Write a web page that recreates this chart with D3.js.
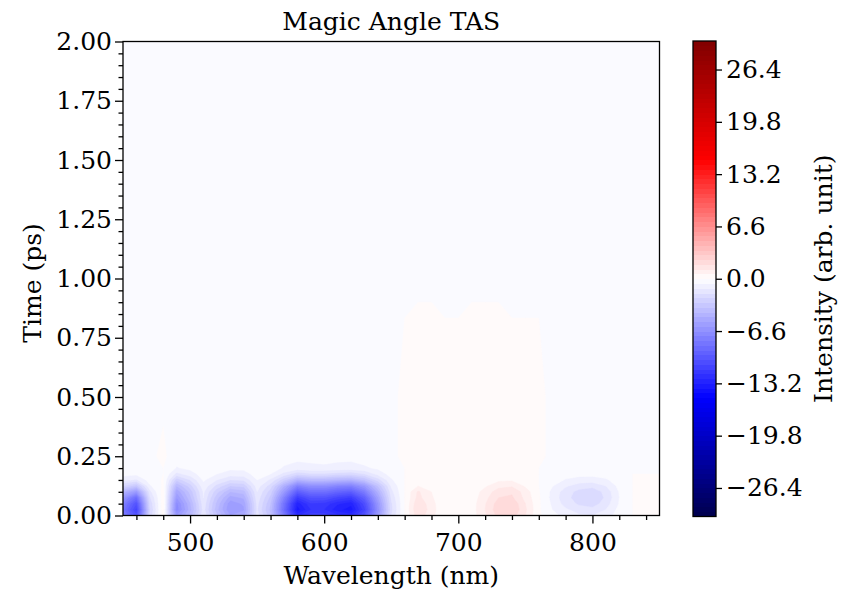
<!DOCTYPE html>
<html>
<head>
<meta charset="utf-8">
<script src="https://cdn.jsdelivr.net/npm/d3@7"></script>
<style>
  body { margin: 0; background: #fff; }
  text { font-family: "DejaVu Serif", serif; fill: #000; }
</style>
</head>
<body>
<svg id="chart" width="851" height="589"></svg>
<script>
// grid
const wavelengths = [450, 460, 470, 480, 490, 500, 510, 520, 530, 540, 550, 560, 570, 580, 590, 600, 610, 620, 630, 640, 650, 660,
	670, 680, 690, 700, 710, 720, 730, 740, 750, 760, 770, 780, 790, 800, 810, 820, 830, 840, 850];
const times = [0, 0.025, 0.05, 0.075, 0.1, 0.125, 0.15, 0.175, 0.2, 0.25, 0.5, 1.0, 1.5, 2.0];

// one row per time, one value per wavelength
const intensity = [
	[-7.5, -10, -2.2, 0.3, -6, -4, -1.3, -3.5, -5.4, -5, -1.5, -3.5, -7.6, -12.2, -11, -11, -11.8, -12.2, -10, -5.8, -1.8, 0,
		1.6, 0.8, 0, 0, 0.3, 1.1, 2, 2.1, 1.2, 0.1, -0.4, -0.8, -1.1, -1.2, -0.9, -0.3, 0, 0.1, 0],
	[-8, -11, -2.5, 0.4, -7, -4.5, -1.5, -4, -6, -5.5, -1.7, -3.8, -8.5, -13.5, -12, -12, -13, -13.5, -11, -6.5, -2, 0,
		1.8, 0.9, 0, 0, 0.3, 1.2, 2.2, 2.4, 1.3, 0.1, -0.6, -1.1, -1.5, -1.6, -1.2, -0.4, 0, 0.15, 0],
	[-7.4, -10.2, -2.3, 0.4, -6.8, -4.3, -1.4, -3.8, -5.8, -5.3, -1.6, -3.6, -8.2, -13, -11.5, -11.6, -12.5, -13, -10.5, -6.2, -1.9, 0,
		1.7, 0.85, 0, 0, 0.3, 1.15, 2.1, 2.3, 1.2, 0.1, -0.7, -1.45, -1.9, -2.1, -1.5, -0.55, 0, 0.2, 0],
	[-6.2, -8.6, -1.9, 0.3, -6, -3.8, -1.2, -3.4, -5.1, -4.7, -1.4, -3.2, -7.3, -11.5, -10.2, -10.2, -11, -11.5, -9.3, -5.5, -1.7, 0,
		1.4, 0.7, 0, 0, 0.25, 1, 1.8, 1.9, 1, 0.1, -0.8, -1.6, -2.1, -2.3, -1.7, -0.6, 0, 0.2, 0],
	[-4.4, -6, -1.4, 0.3, -5.3, -3.4, -1.1, -2.8, -4.2, -3.9, -1.2, -2.7, -6, -9.5, -8.4, -8.4, -9.1, -9.5, -7.7, -4.6, -1.4, 0,
		1.3, 0.6, 0, 0, 0.2, 0.85, 1.5, 1.7, 0.9, 0.05, -0.75, -1.5, -2, -2.2, -1.6, -0.55, 0, 0.2, 0],
	[-2.4, -3.3, -0.7, 0.1, -4.2, -2.7, -0.8, -2, -3, -2.8, -0.9, -2.1, -4.7, -7.4, -6.6, -6.6, -7.2, -7.4, -6, -3.6, -1.1, 0,
		0.6, 0.3, 0, 0, 0.1, 0.5, 1, 1.1, 0.5, 0, -0.55, -1.1, -1.5, -1.6, -1.2, -0.4, 0, 0.1, 0],
	[-1, -1.3, -0.3, 0.05, -2.8, -1.8, -0.5, -1.2, -1.8, -1.7, -0.6, -1.3, -2.8, -4.5, -4, -4, -4.3, -4.5, -3.6, -2.1, -0.7, 0,
		0.25, 0.1, 0, 0, 0, 0.2, 0.45, 0.5, 0.2, 0, -0.3, -0.65, -0.85, -0.9, -0.7, -0.25, 0, 0.05, 0],
	[-0.35, -0.45, -0.1, 0, -1.4, -0.9, -0.3, -0.6, -0.9, -0.85, -0.35, -0.6, -1.4, -2.2, -1.9, -1.9, -2.1, -2.2, -1.8, -1, -0.35, 0,
		0.05, 0, 0, 0, 0, 0.05, 0.1, 0.1, 0.05, 0, -0.15, -0.3, -0.4, -0.4, -0.3, -0.1, 0, 0, 0],
	[-0.3, -0.3, -0.2, 0, -0.65, -0.45, -0.2, -0.35, -0.45, -0.45, -0.3, -0.4, -0.65, -0.85, -0.75, -0.75, -0.8, -0.85, -0.7, -0.5, -0.2, 0,
		0.1, 0.1, 0.05, 0.05, 0.1, 0.1, 0.1, 0.1, 0.1, 0, -0.1, -0.2, -0.2, -0.2, -0.2, -0.1, -0.05, -0.05, -0.05],
	[-0.2, -0.3, -0.1, 0.1, -0.3, -0.3, -0.2, -0.3, -0.3, -0.3, -0.2, -0.3, -0.4, -0.4, -0.4, -0.3, -0.4, -0.4, -0.3, -0.3, -0.1, 0.1,
		0.2, 0.2, 0.1, 0.1, 0.2, 0.2, 0.2, 0.2, 0.1, 0.1, -0.1, -0.2, -0.2, -0.2, -0.1, -0.1, -0.05, -0.05, -0.05],
	[-0.2, -0.3, -0.1, -0.1, -0.2, -0.3, -0.2, -0.2, -0.3, -0.2, -0.2, -0.3, -0.3, -0.3, -0.4, -0.3, -0.3, -0.3, -0.3, -0.2, -0.1, 0.1,
		0.2, 0.2, 0.1, 0.1, 0.2, 0.2, 0.2, 0.1, 0.1, 0.1, -0.1, -0.1, -0.2, -0.1, -0.1, -0.1, -0.05, -0.05, -0.05],
	[-0.2, -0.2, -0.1, -0.1, -0.2, -0.2, -0.1, -0.2, -0.2, -0.2, -0.1, -0.2, -0.3, -0.3, -0.3, -0.3, -0.3, -0.3, -0.2, -0.2, -0.1, -0.05,
		-0.05, -0.05, -0.05, -0.05, -0.05, -0.05, -0.05, -0.05, -0.05, -0.05, -0.1, -0.1, -0.1, -0.1, -0.1, -0.1, -0.05, -0.05, -0.05],
	[-0.2, -0.2, -0.1, -0.1, -0.2, -0.2, -0.1, -0.2, -0.2, -0.2, -0.1, -0.2, -0.2, -0.3, -0.3, -0.3, -0.3, -0.2, -0.2, -0.2, -0.1, -0.1,
		-0.1, -0.1, -0.1, -0.1, -0.1, -0.1, -0.1, -0.1, -0.1, -0.1, -0.1, -0.1, -0.1, -0.1, -0.1, -0.1, -0.1, -0.1, -0.1],
	[-0.2, -0.2, -0.1, -0.1, -0.2, -0.2, -0.1, -0.2, -0.2, -0.2, -0.1, -0.2, -0.2, -0.3, -0.3, -0.3, -0.3, -0.2, -0.2, -0.2, -0.1, -0.1,
		-0.1, -0.1, -0.1, -0.1, -0.1, -0.1, -0.1, -0.1, -0.1, -0.1, -0.1, -0.1, -0.1, -0.1, -0.1, -0.1, -0.1, -0.1, -0.1]
];

const xTicks = [500, 600, 700, 800];
const yTicks = [0, 0.25, 0.5, 0.75, 1.0, 1.25, 1.5, 1.75, 2.0];
const cbarTicks = [-26.4, -19.8, -13.2, -6.6, 0, 6.6, 13.2, 19.8, 26.4];

const vmax = 30;
const step = 0.6;
const fontSize = 25;

var svg = d3.select("#chart");

let plot = { left: 123, right: 659.5, top: 41.5, bottom: 515.5 };
let cbar = { left: 693, right: 716, top: 41, bottom: 516.5 };

var x = d3.scaleLinear().domain([450, 850]).range([plot.left, plot.right]);
var y = d3.scaleLinear().domain([0, 2]).range([plot.bottom, plot.top]);

// matplotlib "seismic"
var color = d3.scaleLinear()
	.domain([-vmax, -vmax / 2, 0, vmax / 2, vmax])
	.range(["rgb(0,0,77)", "rgb(0,0,255)", "rgb(255,255,255)", "rgb(255,0,0)", "rgb(128,0,0)"]);

let levels = d3.range(-vmax, vmax - step / 2, step);

// grid index -> data coordinate
let nx = wavelengths.length, ny = times.length;
let colToWl = d3.scaleLinear().domain(d3.range(nx)).range(wavelengths).clamp(true);
let rowToT = d3.scaleLinear().domain(d3.range(ny)).range(times).clamp(true);

let proj = d3.geoTransform({
	point: function (px, py) {
		this.stream.point(x(colToWl(px - 0.5)), y(rowToT(py - 0.5)));
	}
});
let path = d3.geoPath(proj);

let contours = d3.contours()
	.size([nx, ny])
	.thresholds(levels)(intensity.flat());

svg.append("defs").append("clipPath")
	.attr("id", "plotClip")
	.append("rect")
	.attr("x", plot.left).attr("y", plot.top)
	.attr("width", plot.right - plot.left).attr("height", plot.bottom - plot.top);

svg.append("g")
	.attr("clip-path", "url(#plotClip)")
	.selectAll("path")
	.data(contours)
	.join("path")
	.attr("d", path)
	.attr("fill", d => color(d.value + step / 2))
	.attr("fill-rule", "evenodd")
	.attr("stroke", d => color(d.value + step / 2))
	.attr("stroke-width", 0.4);

// frame
svg.append("rect")
	.attr("x", plot.left).attr("y", plot.top)
	.attr("width", plot.right - plot.left).attr("height", plot.bottom - plot.top)
	.attr("fill", "none").attr("stroke", "#000").attr("stroke-width", 1.3);

function styleAxis(g) {
	g.select(".domain").remove();
	g.selectAll(".tick line").attr("stroke", "#000").attr("stroke-width", 1.3);
	g.selectAll("text").attr("font-family", "DejaVu Serif").attr("font-size", fontSize).attr("fill", "#000");
}

// x axis
let xMinor = d3.range(460, 850, 20).filter(v => v % 100 !== 0);
svg.append("g").attr("transform", `translate(0,${plot.bottom})`)
	.call(d3.axisBottom(x).tickValues(xMinor).tickSize(4.5).tickFormat(""))
	.call(styleAxis);
svg.append("g").attr("transform", `translate(0,${plot.bottom})`)
	.call(d3.axisBottom(x).tickValues(xTicks).tickSize(8).tickPadding(10).tickFormat(d3.format("d")))
	.call(styleAxis);

// y axis
let yMinor = d3.range(1, 40).map(i => i * 0.05).filter(v => Math.abs(v * 4 - Math.round(v * 4)) > 1e-6);
svg.append("g").attr("transform", `translate(${plot.left},0)`)
	.call(d3.axisLeft(y).tickValues(yMinor).tickSize(4.5).tickFormat(""))
	.call(styleAxis);
svg.append("g").attr("transform", `translate(${plot.left},0)`)
	.call(d3.axisLeft(y).tickValues(yTicks).tickSize(8).tickPadding(3).tickFormat(d3.format(".2f")))
	.call(styleAxis);

// titles
svg.append("text")
	.attr("x", (plot.left + plot.right) / 2).attr("y", 30)
	.attr("text-anchor", "middle").attr("font-size", fontSize)
	.text("Magic Angle TAS");
svg.append("text")
	.attr("x", (plot.left + plot.right) / 2).attr("y", 584)
	.attr("text-anchor", "middle").attr("font-size", fontSize)
	.text("Wavelength (nm)");
svg.append("text")
	.attr("transform", `translate(41,283) rotate(-90)`)
	.attr("text-anchor", "middle").attr("font-size", fontSize)
	.text("Time (ps)");

// colorbar
let cy = d3.scaleLinear().domain([-vmax, vmax]).range([cbar.bottom, cbar.top]);
svg.append("g").attr("shape-rendering", "crispEdges").selectAll("rect")
	.data(levels)
	.join("rect")
	.attr("x", cbar.left)
	.attr("y", d => cy(d + step))
	.attr("width", cbar.right - cbar.left)
	.attr("height", d => cy(d) - cy(d + step) + 0.5)
	.attr("fill", d => color(d + step / 2));
svg.append("rect")
	.attr("x", cbar.left).attr("y", cbar.top)
	.attr("width", cbar.right - cbar.left).attr("height", cbar.bottom - cbar.top)
	.attr("fill", "none").attr("stroke", "#000").attr("stroke-width", 1.3);
svg.append("g").attr("transform", `translate(${cbar.right},0)`)
	.call(d3.axisRight(cy).tickValues(cbarTicks).tickSize(6).tickPadding(4).tickFormat(d3.format(".1f")))
	.call(styleAxis);
svg.append("text")
	.attr("transform", `translate(832,${(cbar.top + cbar.bottom) / 2}) rotate(-90)`)
	.attr("text-anchor", "middle").attr("font-size", fontSize)
	.text("Intensity (arb. unit)");
</script>
</body>
</html>
